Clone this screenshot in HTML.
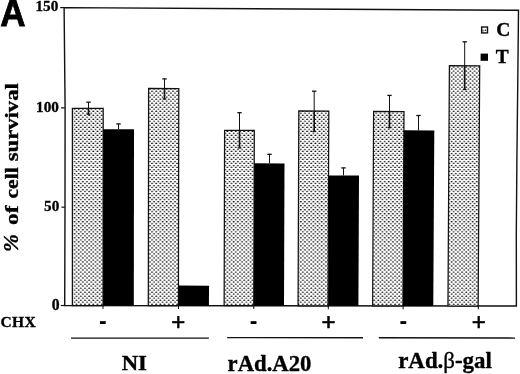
<!DOCTYPE html>
<html><head><meta charset="utf-8"><title>Figure A</title>
<style>
html,body{margin:0;padding:0;background:#fff;}
body{width:520px;height:374px;overflow:hidden;}
svg{display:block;}
text{fill:#000;}
.tb{font-family:"Liberation Serif","Times New Roman",serif;font-weight:bold;stroke:#000;stroke-width:0.35px;}
.sb{font-family:"Liberation Sans",Arial,sans-serif;font-weight:bold;}
.sr{font-family:"Liberation Sans",Arial,sans-serif;stroke:#000;stroke-width:0.6px;}
.pa{stroke:#000;stroke-width:0.8px;}
</style></head><body>
<svg width="520" height="374" viewBox="0 0 520 374">
<defs>
<pattern id="dots" x="75.55" y="150.4" width="4.19" height="4.02" patternUnits="userSpaceOnUse">
<rect width="4.19" height="4.02" fill="#fff"/>
<ellipse cx="1.05" cy="1.0" rx="1.0" ry="0.68" fill="#000"/>
<ellipse cx="3.145" cy="3.01" rx="1.0" ry="0.68" fill="#000"/>
</pattern>
</defs>
<rect width="520" height="374" fill="#fff"/>

<polygon points="64.1,7.6 518.5,10.3 517.8,79 516.9,159 516.3,234 516.4,306 64.7,305.5 65.0,207 65.1,108" fill="none" stroke="#111" stroke-width="1.4" stroke-linejoin="miter"/>
<line x1="60.2" y1="7.6" x2="64.8" y2="7.6" stroke="#111" stroke-width="1.2"/>
<line x1="61.0" y1="107.9" x2="64.8" y2="107.9" stroke="#111" stroke-width="1.2"/>
<line x1="61.4" y1="207.2" x2="64.8" y2="207.2" stroke="#111" stroke-width="1.2"/>
<line x1="60.8" y1="305.5" x2="64.8" y2="305.5" stroke="#111" stroke-width="1.2"/>
<polygon points="72.38,305.5 72.4,108.3 103.2,108.45 103.08,305.5" fill="url(#dots)" stroke="#111" stroke-width="1.25"/>
<line x1="88.5" y1="102.2" x2="88.5" y2="108.3" stroke="#111" stroke-width="1"/>
<line x1="86.3" y1="102.2" x2="90.7" y2="102.2" stroke="#111" stroke-width="1.3"/>
<line x1="88.5" y1="108.3" x2="88.5" y2="114.2" stroke="#111" stroke-width="1.6"/>
<line x1="86.7" y1="114.2" x2="90.3" y2="114.2" stroke="#111" stroke-width="1.3"/>
<polygon points="103.09,305.5 103.2,129.2 134.0,129.29999999999998 133.81,305.6" fill="#000"/>
<line x1="118.5" y1="123.9" x2="118.5" y2="129.2" stroke="#111" stroke-width="1"/>
<line x1="116.3" y1="123.9" x2="120.7" y2="123.9" stroke="#111" stroke-width="1.3"/>
<polygon points="148.31,305.6 148.6,88.5 178.8,88.65 178.41,305.6" fill="url(#dots)" stroke="#111" stroke-width="1.25"/>
<line x1="164.5" y1="78.9" x2="164.5" y2="88.5" stroke="#111" stroke-width="1"/>
<line x1="162.3" y1="78.9" x2="166.7" y2="78.9" stroke="#111" stroke-width="1.3"/>
<line x1="164.5" y1="88.5" x2="164.5" y2="98.9" stroke="#111" stroke-width="1.6"/>
<line x1="162.7" y1="98.9" x2="166.3" y2="98.9" stroke="#111" stroke-width="1.3"/>
<polygon points="178.46,305.6 178.5,285.6 209.0,285.70000000000005 208.95,305.7" fill="#000"/>
<polygon points="224.16,305.7 224.6,130.3 254.3,130.45000000000002 253.78,305.7" fill="url(#dots)" stroke="#111" stroke-width="1.25"/>
<line x1="239.5" y1="112.7" x2="239.5" y2="130.3" stroke="#111" stroke-width="1"/>
<line x1="237.3" y1="112.7" x2="241.7" y2="112.7" stroke="#111" stroke-width="1.3"/>
<line x1="239.5" y1="130.3" x2="239.5" y2="147.9" stroke="#111" stroke-width="1.6"/>
<line x1="237.7" y1="147.9" x2="241.3" y2="147.9" stroke="#111" stroke-width="1.3"/>
<polygon points="253.78,305.7 254.2,163.3 284.5,163.4 284.01,305.7" fill="#000"/>
<line x1="269.5" y1="154.3" x2="269.5" y2="163.3" stroke="#111" stroke-width="1"/>
<line x1="267.3" y1="154.3" x2="271.7" y2="154.3" stroke="#111" stroke-width="1.3"/>
<polygon points="298.08,305.8 298.8,110.9 328.8,111.05000000000001 327.99,305.8" fill="url(#dots)" stroke="#111" stroke-width="1.25"/>
<line x1="314.2" y1="91.2" x2="314.2" y2="110.9" stroke="#111" stroke-width="1"/>
<line x1="312.0" y1="91.2" x2="316.4" y2="91.2" stroke="#111" stroke-width="1.3"/>
<line x1="314.2" y1="110.9" x2="314.2" y2="131.5" stroke="#111" stroke-width="1.6"/>
<line x1="312.4" y1="131.5" x2="316.0" y2="131.5" stroke="#111" stroke-width="1.3"/>
<polygon points="328.16,305.8 328.7,175.5 359.0,175.6 358.40,305.8" fill="#000"/>
<line x1="343.5" y1="167.9" x2="343.5" y2="175.5" stroke="#111" stroke-width="1"/>
<line x1="341.3" y1="167.9" x2="345.7" y2="167.9" stroke="#111" stroke-width="1.3"/>
<polygon points="372.66,305.8 373.6,111.4 404.0,111.55000000000001 402.97,305.9" fill="url(#dots)" stroke="#111" stroke-width="1.25"/>
<line x1="389.5" y1="95.4" x2="389.5" y2="111.4" stroke="#111" stroke-width="1"/>
<line x1="387.3" y1="95.4" x2="391.7" y2="95.4" stroke="#111" stroke-width="1.3"/>
<line x1="389.5" y1="111.4" x2="389.5" y2="127.7" stroke="#111" stroke-width="1.6"/>
<line x1="387.7" y1="127.7" x2="391.3" y2="127.7" stroke="#111" stroke-width="1.3"/>
<polygon points="402.97,305.9 403.9,130.35 434.3,130.45 433.28,305.9" fill="#000"/>
<line x1="418.5" y1="115.5" x2="418.5" y2="130.35" stroke="#111" stroke-width="1"/>
<line x1="416.3" y1="115.5" x2="420.7" y2="115.5" stroke="#111" stroke-width="1.3"/>
<polygon points="447.95,305.9 449.4,65.7 479.7,65.85000000000001 478.14,306.0" fill="url(#dots)" stroke="#111" stroke-width="1.25"/>
<line x1="464.7" y1="41.8" x2="464.7" y2="65.7" stroke="#111" stroke-width="1"/>
<line x1="462.5" y1="41.8" x2="466.9" y2="41.8" stroke="#111" stroke-width="1.3"/>
<line x1="464.7" y1="65.7" x2="464.7" y2="89.5" stroke="#111" stroke-width="1.6"/>
<line x1="462.9" y1="89.5" x2="466.5" y2="89.5" stroke="#111" stroke-width="1.3"/>
<line x1="103.0" y1="305.5" x2="103.0" y2="308.9" stroke="#111" stroke-width="1"/>
<line x1="178.5" y1="305.6" x2="178.5" y2="309.0" stroke="#111" stroke-width="1"/>
<line x1="253.8" y1="305.7" x2="253.8" y2="309.1" stroke="#111" stroke-width="1"/>
<line x1="328.3" y1="305.8" x2="328.3" y2="309.2" stroke="#111" stroke-width="1"/>
<line x1="403.1" y1="305.9" x2="403.1" y2="309.3" stroke="#111" stroke-width="1"/>
<line x1="478.3" y1="306.0" x2="478.3" y2="309.4" stroke="#111" stroke-width="1"/>
<line x1="71" y1="338.1" x2="208.9" y2="338.1" stroke="#111" stroke-width="1.45"/>
<line x1="227.2" y1="337.6" x2="363" y2="337.7" stroke="#111" stroke-width="1.45"/>
<line x1="378.8" y1="337.7" x2="515" y2="338.1" stroke="#111" stroke-width="1.45"/>
<rect x="481.65" y="27.0" width="5.85" height="5.9" fill="#fff" stroke="#111" stroke-width="1.4"/>
<ellipse cx="485.4" cy="30.3" rx="0.9" ry="0.8" fill="#222"/><ellipse cx="483.0" cy="30.6" rx="0.7" ry="1.1" fill="#333"/>
<rect x="480.6" y="53.6" width="7.4" height="7.2" fill="#000"/>
<text class="tb" x="496.3" y="35.5" font-size="19.5">C</text>
<text class="tb" x="495.8" y="62.9" font-size="19.4">T</text>
<text class="sb pa" x="0.25" y="26.25" font-size="36.3" textLength="25.3" lengthAdjust="spacingAndGlyphs">A</text>
<text class="tb" x="58.3" y="11.3" font-size="15.2" text-anchor="end">150</text>
<text class="tb" x="58.9" y="111.9" font-size="15.2" text-anchor="end">100</text>
<text class="tb" x="59.3" y="211.2" font-size="15.2" text-anchor="end">50</text>
<text class="tb" x="59.5" y="309.5" font-size="15.7" text-anchor="end">0</text>
<text class="tb" font-size="21.5" font-style="italic" transform="translate(18.2,0) rotate(-90)" x="-252.0" y="0">%</text>
<text class="tb" font-size="19.5"  transform="translate(18.4,0) rotate(-90)" x="-225.0" y="0" textLength="19.6" lengthAdjust="spacingAndGlyphs">of</text>
<text class="tb" font-size="19.5"  transform="translate(18.4,0) rotate(-90)" x="-198.6" y="0" textLength="31.3" lengthAdjust="spacingAndGlyphs">cell</text>
<text class="tb" font-size="19.5"  transform="translate(18.4,0) rotate(-90)" x="-161.2" y="0" textLength="78.0" lengthAdjust="spacingAndGlyphs">survival</text>
<text class="tb" x="0.6" y="327" font-size="15.5" letter-spacing="0.3">CHX</text>
<text class="sb" x="102.8" y="329.1" font-size="23" text-anchor="middle">-</text>
<text class="sb" x="253.6" y="329.1" font-size="23" text-anchor="middle">-</text>
<text class="sb" x="403.3" y="329.1" font-size="23" text-anchor="middle">-</text>
<text class="sr" x="178.3" y="330.2" font-size="24" text-anchor="middle">+</text>
<text class="sr" x="328.4" y="330.2" font-size="24" text-anchor="middle">+</text>
<text class="sr" x="478.7" y="330.2" font-size="24" text-anchor="middle">+</text>
<text class="tb" x="121.7" y="370" font-size="21.7" textLength="25.2" lengthAdjust="spacingAndGlyphs">NI</text>
<text class="tb" x="227.6" y="370.6" font-size="22.7">rAd.A20</text>
<text class="tb" x="398.2" y="367.6" font-size="22.9">rAd.<tspan font-weight="normal">β</tspan>-gal</text>
</svg></body></html>
